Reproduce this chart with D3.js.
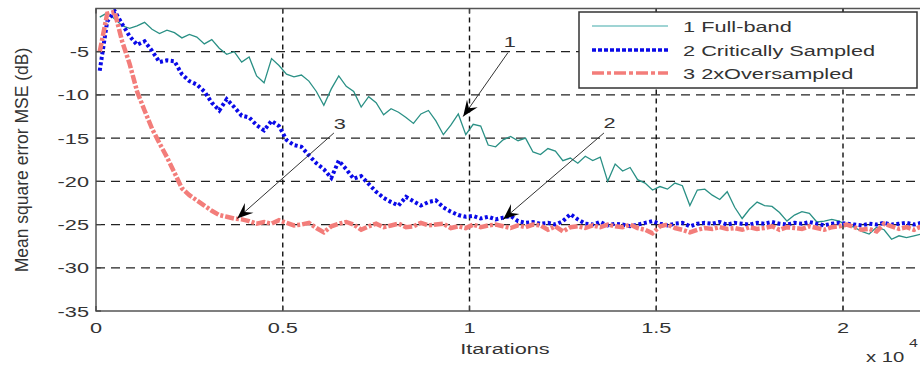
<!DOCTYPE html>
<html>
<head>
<meta charset="utf-8">
<script src="https://cdn.jsdelivr.net/npm/d3@7"></script>
<style>
  body { margin: 0; background: #fff; }
  text { font-family: "Liberation Sans", Arial, sans-serif; fill: #333; }
</style>
</head>
<body>
<script>
// x in units of 10^4 iterations, sampled every 0.02 starting at 0.01
let x0 = 0.01, dx = 0.02;

let fullBand = [-1.0, -0.5, -1.2, -2.0, -2.3, -2.0, -1.6, -2.4, -2.9, -2.5,
  -2.8, -3.4, -3.0, -3.3, -4.1, -3.6, -4.6, -5.3, -5.0, -6.2,
  -5.6, -7.8, -8.6, -5.8, -6.6, -7.6, -7.9, -7.7, -8.4, -9.6,
  -11.2, -9.3, -7.8, -9.0, -9.6, -11.4, -10.2, -10.9, -12.3, -11.6,
  -12.0, -12.6, -13.3, -12.2, -11.8, -13.0, -14.6, -13.5, -12.2, -14.6,
  -13.4, -13.6, -15.8, -16.0, -15.2, -14.8, -15.3, -15.0, -16.6, -16.9,
  -16.2, -16.5, -17.6, -17.3, -17.9, -17.1, -17.6, -17.2, -20.0, -18.0,
  -18.8, -18.4, -19.8, -20.2, -21.0, -20.6, -20.9, -20.2, -20.5, -22.8,
  -21.0, -20.9, -21.6, -22.1, -21.2, -23.0, -24.3, -23.2, -22.4, -22.8,
  -22.9, -23.6, -24.6, -23.9, -23.5, -23.7, -24.7, -24.6, -24.4, -24.6,
  -25.1, -25.3, -25.8, -26.1, -25.3, -25.6, -26.7, -26.3, -26.5, -26.3, -26.1];

let critSampled = [-7.2, -1.5, -0.3, -1.8, -3.2, -4.2, -3.8, -4.9, -6.2, -6.0,
  -6.1, -7.6, -8.4, -8.8, -9.6, -10.9, -11.8, -10.5, -11.4, -12.4,
  -12.6, -13.5, -14.1, -13.0, -13.6, -15.2, -15.8, -16.0, -17.0, -17.9,
  -18.6, -19.6, -17.6, -18.6, -19.7, -19.4, -20.3, -21.2, -21.9, -22.4,
  -22.8, -21.8, -22.3, -22.8, -22.4, -22.2, -23.0, -23.5, -23.9, -24.1,
  -24.0, -24.3, -24.1, -24.4, -24.2, -24.0, -24.6, -24.8, -24.7, -24.9,
  -24.8, -25.0, -24.6, -23.8, -24.4, -24.9, -25.0, -24.7, -25.1, -24.9,
  -25.0, -25.2, -25.0, -24.8, -24.6, -24.9, -25.1, -24.9, -24.8, -25.2,
  -24.9, -24.8, -24.9, -24.7, -25.0, -24.8, -24.9, -25.0, -24.8, -24.9,
  -24.7, -24.9, -25.0, -24.8, -24.9, -24.7, -24.9, -25.1, -24.9, -24.8,
  -24.9, -25.0, -25.1, -24.9, -25.0, -24.8, -25.0, -24.9, -24.8, -25.0, -24.8];

let overSampled = [-5.0, -0.6, -0.4, -3.8, -6.4, -9.6, -11.8, -13.9, -15.6, -17.2,
  -19.0, -20.8, -21.6, -22.2, -22.8, -23.4, -23.9, -24.1, -24.3, -24.4,
  -24.6, -24.9, -24.7, -24.9, -24.5, -24.8, -25.1, -25.0, -24.8, -25.4,
  -25.9, -25.2, -24.9, -24.7, -25.0, -25.6, -25.2, -24.9, -25.3, -25.1,
  -24.9, -25.3, -25.2, -24.8, -25.1, -25.0, -24.9, -25.4, -25.2, -25.4,
  -25.0, -25.3, -25.1, -25.0, -25.2, -25.4, -25.1, -25.3, -25.0, -25.1,
  -25.6, -25.2, -25.8, -25.3, -25.2, -25.4, -25.1, -25.3, -25.0, -25.2,
  -25.3, -25.0, -25.4, -25.6, -26.0, -25.2, -25.0, -25.4, -25.6, -25.9,
  -25.6, -25.4, -25.5, -25.3, -25.5, -25.4, -25.6, -25.3, -25.5, -25.4,
  -25.2, -25.6, -25.3, -25.4, -25.5, -25.2, -25.4, -25.6, -25.3, -25.2,
  -25.0, -25.3, -25.6, -25.5, -25.8, -24.9, -25.2, -25.5, -25.3, -25.6, -25.2];

let legendNames = ["1 Full-band", "2 Critically Sampled", "3 2xOversampled"];
let xTicks = [0, 0.5, 1, 1.5, 2];
let xTickLabels = ["0", "0.5", "1", "1.5", "2"];
let yTicks = [-35, -30, -25, -20, -15, -10, -5];

// arrows: label, label pos, arrow start, arrow tip (data units)
let notes = [
  { label: "1", lx: 1.108, ly: -3.9, x1: 1.103, y1: -5.1, x2: 0.983, y2: -12.5 },
  { label: "3", lx: 0.653, ly: -13.4, x1: 0.637, y1: -14.4, x2: 0.378, y2: -24.3 },
  { label: "2", lx: 1.375, ly: -13.3, x1: 1.36, y1: -14.4, x2: 1.09, y2: -24.4 }
];

let W = 920, H = 369;
let sx = 1.45; // the picture is stretched sideways

let x = d3.scaleLinear().domain([0, 2.25]).range([96, 96 + 2.25 * 373.5]);
let y = d3.scaleLinear().domain([-35, 0]).range([311, 8.5]);

let svg = d3.select("body").append("svg")
  .attr("width", W)
  .attr("height", H);

svg.append("defs").append("clipPath").attr("id", "clip")
  .append("rect")
  .attr("x", x(0)).attr("y", y(0))
  .attr("width", W - x(0)).attr("height", y(-35) - y(0));

function wideText(g, tx, ty, str, size, anchor) {
  return g.append("text")
    .attr("transform", "translate(" + tx + "," + ty + ") scale(" + sx + ",1)")
    .attr("text-anchor", anchor || "start")
    .style("font-size", size + "px")
    .text(str);
}

// grid
let grid = svg.append("g");
grid.selectAll("line.h").data(yTicks.filter(d => d > -35))
  .enter().append("line")
  .attr("x1", x(0)).attr("x2", W)
  .attr("y1", d => y(d)).attr("y2", d => y(d))
  .attr("stroke", "#222").attr("stroke-width", 1.2)
  .attr("stroke-dasharray", "9,6");

grid.selectAll("line.v").data(xTicks.filter(d => d > 0))
  .enter().append("line")
  .attr("x1", d => x(d)).attr("x2", d => x(d))
  .attr("y1", y(0)).attr("y2", y(-35))
  .attr("stroke", "#111").attr("stroke-width", 1.4)
  .attr("stroke-dasharray", "5,4");

// series
let line = d3.line()
  .x((d, i) => x(x0 + dx * i))
  .y(d => y(d));

let plot = svg.append("g").attr("clip-path", "url(#clip)");

plot.append("path").datum(fullBand)
  .attr("d", line)
  .attr("fill", "none")
  .attr("stroke", "#2a9085")
  .attr("stroke-width", 1.3);

plot.append("path").datum(critSampled)
  .attr("d", line)
  .attr("fill", "none")
  .attr("stroke", "#0a0ae8")
  .attr("stroke-width", 4)
  .attr("stroke-dasharray", "3,2.5");

plot.append("path").datum(overSampled)
  .attr("d", line)
  .attr("fill", "none")
  .attr("stroke", "#f37d7a")
  .attr("stroke-width", 4.5)
  .attr("stroke-dasharray", "9,2,3,2");

// frame
svg.append("path")
  .attr("d", "M" + W + "," + y(0) + "H" + x(0) + "V" + y(-35) + "H" + W)
  .attr("fill", "none").attr("stroke", "#555").attr("stroke-width", 1.5);

// ticks
let ticks = svg.append("g").attr("stroke", "#444").attr("stroke-width", 1.2);
xTicks.forEach(t => {
  ticks.append("line").attr("x1", x(t)).attr("x2", x(t)).attr("y1", y(-35)).attr("y2", y(-35) - 5);
  ticks.append("line").attr("x1", x(t)).attr("x2", x(t)).attr("y1", y(0)).attr("y2", y(0) + 5);
});
yTicks.forEach(t => {
  ticks.append("line").attr("x1", x(0)).attr("x2", x(0) + 5).attr("y1", y(t)).attr("y2", y(t));
});

// tick labels
let labels = svg.append("g");
yTicks.forEach(t => wideText(labels, 89, y(t) + 5.5, String(t), 15, "end"));
xTicks.forEach((t, i) => wideText(labels, x(t), 333, xTickLabels[i], 15, "middle"));

wideText(labels, 505, 354, "Itarations", 15, "middle");
wideText(labels, 866, 362, "x 10", 14, "start");
wideText(labels, 909, 347, "4", 11, "start");

labels.append("text")
  .attr("transform", "translate(28,160) rotate(-90)")
  .attr("text-anchor", "middle")
  .style("font-size", "17.5px")
  .text("Mean square error MSE  (dB)");

// annotations
let ann = svg.append("g");
notes.forEach(n => {
  let px1 = x(n.x1), py1 = y(n.y1), px2 = x(n.x2), py2 = y(n.y2);
  ann.append("line")
    .attr("x1", px1).attr("y1", py1).attr("x2", px2).attr("y2", py2)
    .attr("stroke", "#333").attr("stroke-width", 1);
  let a = Math.atan2(py2 - py1, px2 - px1);
  let L = 16, w = 6.5, notch = 10;
  let pt = (d, s) => [px2 - d * Math.cos(a) - s * Math.sin(a), py2 - d * Math.sin(a) + s * Math.cos(a)];
  let p = [[px2, py2], pt(L, w), pt(notch, 0), pt(L, -w)];
  ann.append("path")
    .attr("d", "M" + p.map(q => q.join(",")).join("L") + "Z")
    .attr("fill", "#000");
  wideText(ann, x(n.lx), y(n.ly) + 5, n.label, 15, "middle");
});

// legend
let lg = svg.append("g");
lg.append("rect")
  .attr("x", 579).attr("y", 12).attr("width", 338).attr("height", 76)
  .attr("fill", "#fff").attr("stroke", "#333").attr("stroke-width", 1.5);

let legendStyles = [
  { color: "#7fc6c6", width: 1.3, dash: null },
  { color: "#0a0ae8", width: 3.5, dash: "4,2" },
  { color: "#f37d7a", width: 3.5, dash: "12,3,4,3" }
];
let rowY = [26, 50, 73];
legendNames.forEach((name, i) => {
  let s = legendStyles[i];
  let l = lg.append("line")
    .attr("x1", 592).attr("x2", 668)
    .attr("y1", rowY[i]).attr("y2", rowY[i])
    .attr("stroke", s.color).attr("stroke-width", s.width);
  if (s.dash) l.attr("stroke-dasharray", s.dash);
  wideText(lg, 683, rowY[i] + 5.5, name, 15, "start");
});
</script>
</body>
</html>
